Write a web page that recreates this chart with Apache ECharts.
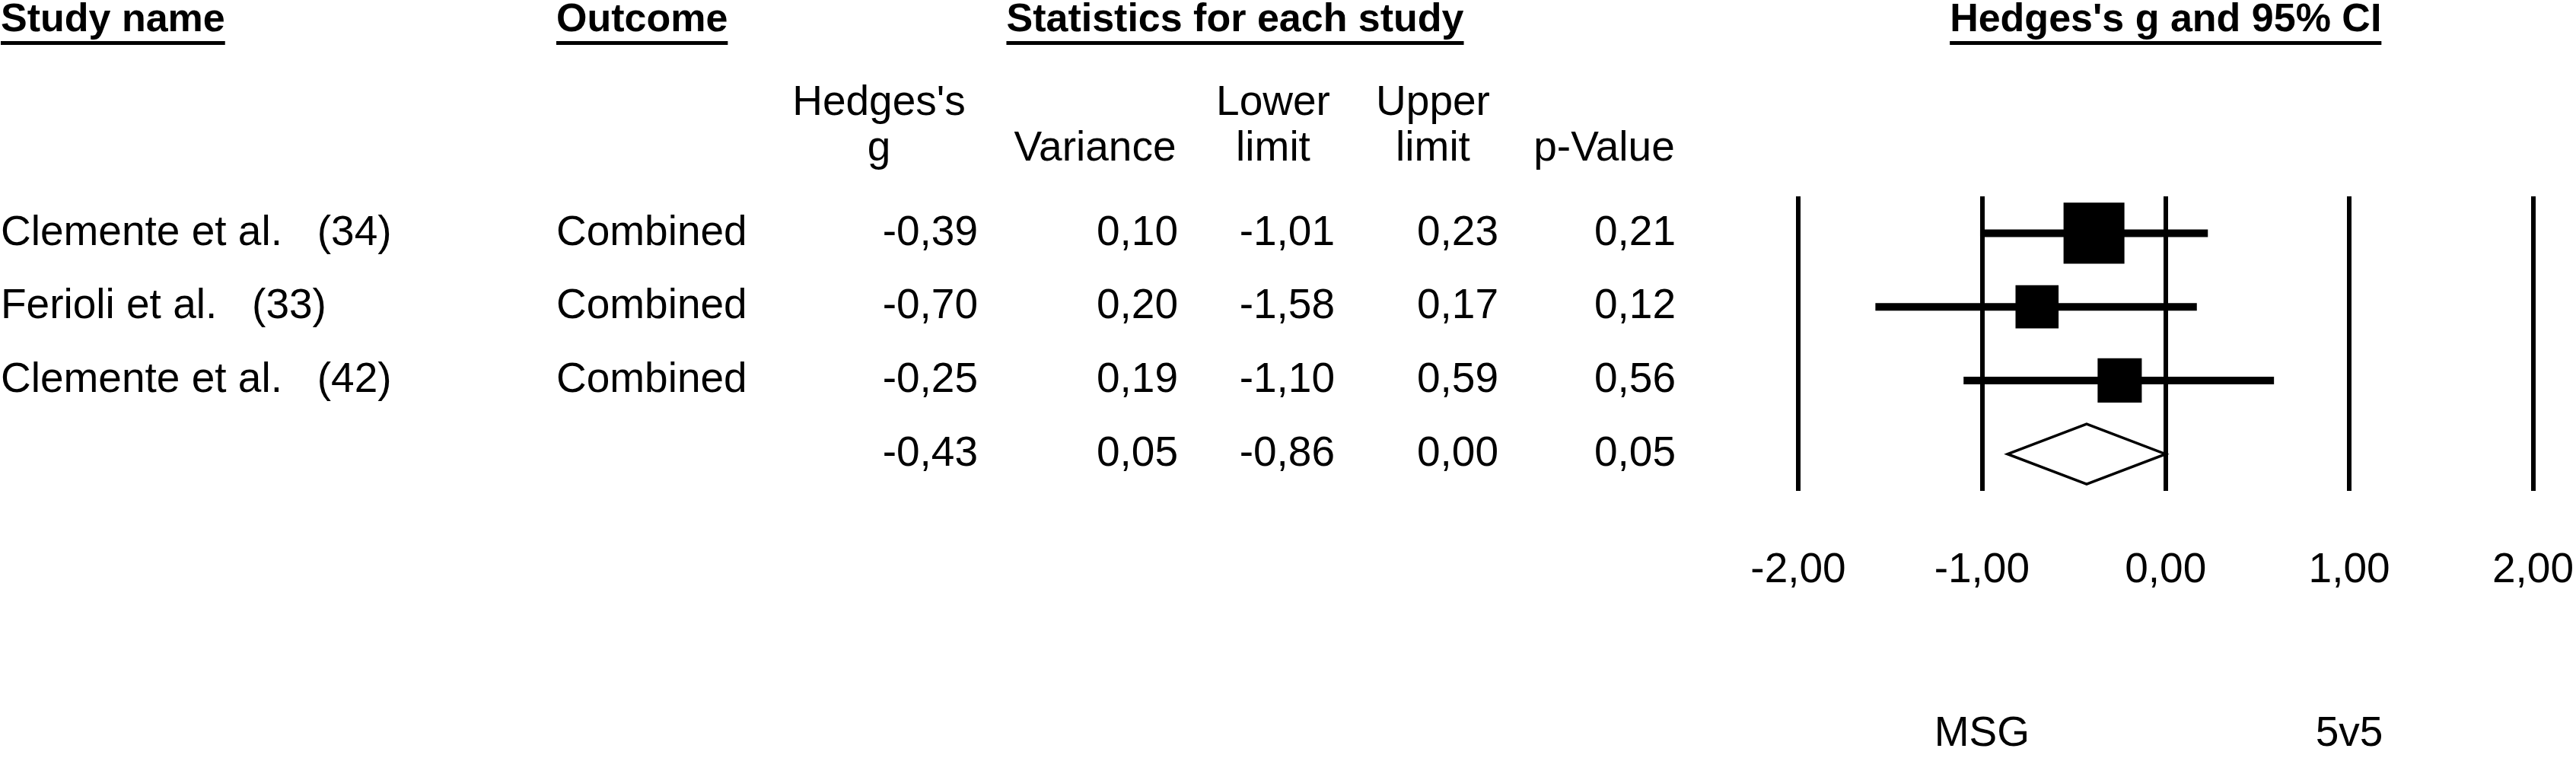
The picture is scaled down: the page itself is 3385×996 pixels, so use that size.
<!DOCTYPE html>
<html>
<head>
<meta charset="utf-8">
<script src="https://cdn.jsdelivr.net/npm/echarts@6/dist/echarts.min.js"></script>
<style>
html,body{margin:0;padding:0;background:#fff;}
#c{width:3385px;height:996px;}
</style>
</head>
<body>
<div id="c"></div>
<script>
// ---- data ----
const studyNames = ['Clemente et al.   (34)', 'Ferioli et al.   (33)', 'Clemente et al.   (42)'];
const outcomes = ['Combined', 'Combined', 'Combined'];
const hedgesG = [-0.39, -0.70, -0.25];
const variances = [0.10, 0.20, 0.19];
const lowerLimits = [-1.01, -1.58, -1.10];
const upperLimits = [0.23, 0.17, 0.59];
const pValues = [0.21, 0.12, 0.56];
const summaryG = -0.43;
const summaryVariance = 0.05;
const summaryLower = -0.86;
const summaryUpper = 0.00;
const summaryP = 0.05;
const xTicks = [-2, -1, 0, 1, 2];
const groupLabels = ['MSG', '5v5'];
const groupLabelAt = [-1, 1];

const FONT = 'Liberation Sans';
const fmt = v => v.toFixed(2).replace('.', ',');
const rows = studyNames.map((_, i) => i + 1);
const summaryRow = studyNames.length + 1;

const chart = echarts.init(document.getElementById('c'), null, {renderer: 'canvas'});

const boxScale = 25.3;
const option = {
  animation: false,
  backgroundColor: '#fff',
  grid: {left: 2363, right: 55, top: 258, bottom: 351},
  xAxis: {
    type: 'value', min: xTicks[0], max: xTicks[xTicks.length - 1], interval: 1,
    axisLine: {show: false}, axisTick: {show: false},
    splitLine: {show: true, lineStyle: {color: '#000', width: 6}},
    axisLabel: {
      formatter: v => fmt(v), fontSize: 55, fontFamily: FONT, color: '#000',
      margin: 77, lineHeight: 55, showMinLabel: true, showMaxLabel: true
    }
  },
  yAxis: {type: 'value', min: 0.5, max: summaryRow + 0.5, inverse: true, show: false},
  series: [
    {
      type: 'custom',
      renderItem: (params, api) => {
        const p1 = api.coord([api.value(0), api.value(2)]);
        const p2 = api.coord([api.value(1), api.value(2)]);
        return {type: 'line', shape: {x1: p1[0], y1: p1[1], x2: p2[0], y2: p2[1]},
          style: {stroke: '#000', lineWidth: 10, lineCap: 'butt'}};
      },
      data: rows.map((r, i) => [lowerLimits[i], upperLimits[i], r]),
      z: 3
    },
    {
      type: 'scatter',
      symbol: 'rect',
      symbolSize: (val, params) => boxScale * Math.sqrt(1 / variances[params.dataIndex]),
      itemStyle: {color: '#000', opacity: 1},
      data: rows.map((r, i) => [hedgesG[i], r]),
      z: 4
    },
    {
      type: 'custom',
      renderItem: (params, api) => {
        const l = api.coord([api.value(0), api.value(3)]);
        const m = api.coord([api.value(1), api.value(3)]);
        const r = api.coord([api.value(2), api.value(3)]);
        const h = 39.5;
        return {type: 'polygon', shape: {points: [[l[0], l[1]], [m[0], m[1] - h], [r[0], r[1]], [m[0], m[1] + h]]},
          style: {fill: '#fff', stroke: '#000', lineWidth: 3.5, lineJoin: 'miter'}};
      },
      data: [[summaryLower, summaryG, summaryUpper, summaryRow]],
      z: 5
    }
  ]
};
chart.setOption(option);

const rowY = r => chart.convertToPixel({yAxisIndex: 0}, r);
const xPx = v => chart.convertToPixel({xAxisIndex: 0}, v);

const ctx = document.createElement('canvas').getContext('2d');
function measure(t, size, weight) {
  ctx.font = (weight || 'normal') + ' ' + size + 'px "' + FONT + '"';
  return ctx.measureText(t).width;
}

const els = [];
function txt(t, x, y, align, size, weight) {
  els.push({type: 'text', silent: true, z: 10, style: {
    text: t, x: x, y: y, fill: '#000', fontSize: size || 55, fontFamily: FONT,
    fontWeight: weight || 'normal', align: align, textAlign: align,
    verticalAlign: 'middle', textVerticalAlign: 'middle'
  }});
}
function header(t, x, align) {
  const size = 52;
  txt(t, x, 27, align, size, 'bold');
  const w = measure(t, size, 'bold');
  const left = align === 'center' ? x - w / 2 : x;
  els.push({type: 'rect', silent: true, z: 10, shape: {x: left, y: 54, width: w, height: 5}, style: {fill: '#000'}});
}

header('Study name', 1, 'left');
header('Outcome', 731, 'left');
header('Statistics for each study', 1623, 'center');
header("Hedges's g and 95% CI", xPx(0), 'center');

// sub headers
txt("Hedges's", 1155, 136, 'center');
txt('g', 1155, 196, 'center');
txt('Variance', 1439, 196, 'center');
txt('Lower', 1673, 136, 'center');
txt('limit', 1673, 196, 'center');
txt('Upper', 1883, 136, 'center');
txt('limit', 1883, 196, 'center');
txt('p-Value', 2108, 196, 'center');

const colRight = {g: 1285, v: 1548, lo: 1754, up: 1969, p: 2202};
rows.forEach((r, i) => {
  const y = rowY(r);
  txt(studyNames[i], 1, y, 'left');
  txt(outcomes[i], 731, y, 'left');
  txt(fmt(hedgesG[i]), colRight.g, y, 'right');
  txt(fmt(variances[i]), colRight.v, y, 'right');
  txt(fmt(lowerLimits[i]), colRight.lo, y, 'right');
  txt(fmt(upperLimits[i]), colRight.up, y, 'right');
  txt(fmt(pValues[i]), colRight.p, y, 'right');
});
{
  const y = rowY(summaryRow);
  txt(fmt(summaryG), colRight.g, y, 'right');
  txt(fmt(summaryVariance), colRight.v, y, 'right');
  txt(fmt(summaryLower), colRight.lo, y, 'right');
  txt(fmt(summaryUpper), colRight.up, y, 'right');
  txt(fmt(summaryP), colRight.p, y, 'right');
}
groupLabels.forEach((t, i) => txt(t, xPx(groupLabelAt[i]), 965, 'center'));

chart.setOption({graphic: {elements: els}});
</script>
</body>
</html>
